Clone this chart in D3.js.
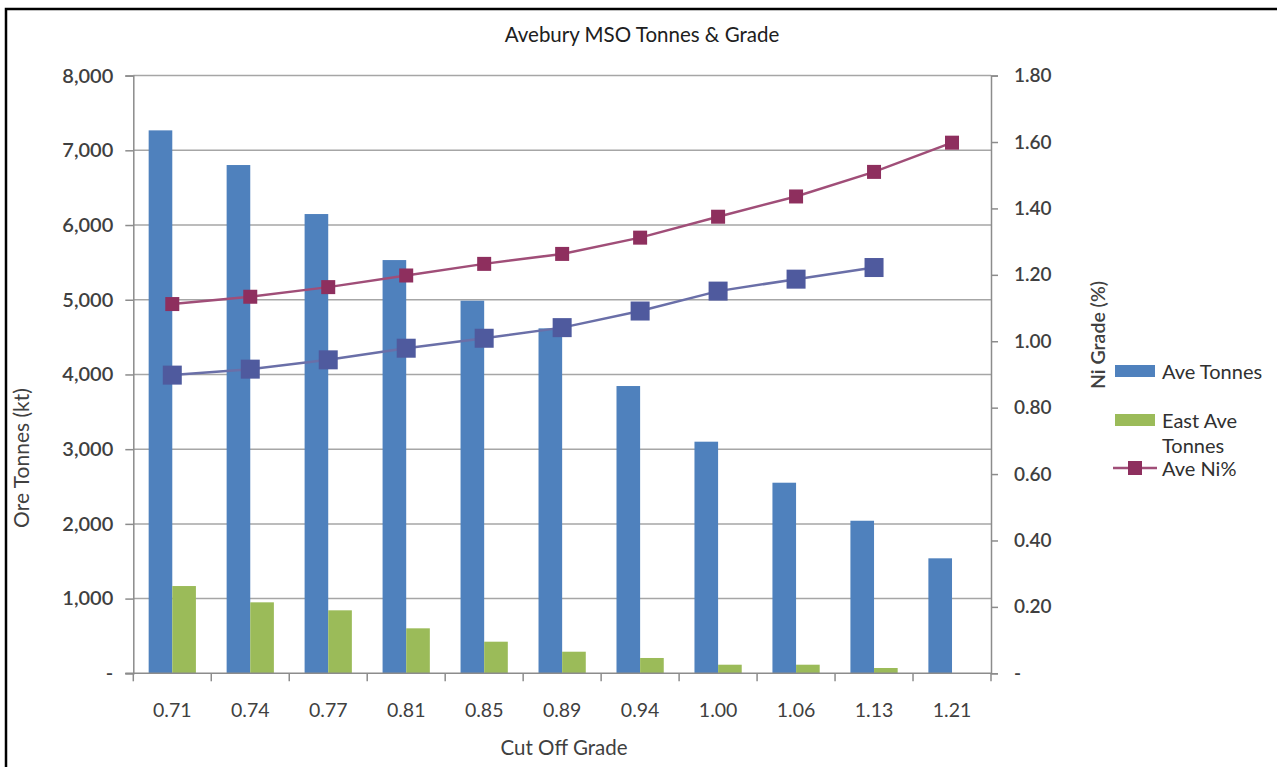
<!DOCTYPE html>
<html>
<head>
<meta charset="utf-8">
<script src="https://cdn.jsdelivr.net/npm/d3@7"></script>
<style>
  html, body { margin: 0; padding: 0; background: #fff; }
  svg { display: block; }
  text { font-family: Lato, "Open Sans", sans-serif; }
</style>
</head>
<body>
<script>
// ---- data ----
const categories = ["0.71", "0.74", "0.77", "0.81", "0.85", "0.89", "0.94", "1.00", "1.06", "1.13", "1.21"];
const aveTonnes = [7267, 6803, 6147, 5531, 4987, 4617, 3845, 3100, 2551, 2042, 1539];
const eastAveTonnes = [1168, 950, 843, 602, 423, 289, 205, 115, 115, 71, null];
const aveNi = [1.112, 1.134, 1.163, 1.198, 1.233, 1.263, 1.312, 1.375, 1.436, 1.510, 1.598];
const eastAveNi = [0.898, 0.916, 0.944, 0.979, 1.009, 1.041, 1.091, 1.151, 1.187, 1.222, null];
const leftTicks = [0, 1000, 2000, 3000, 4000, 5000, 6000, 7000, 8000];
const rightTicks = [0, 0.2, 0.4, 0.6, 0.8, 1.0, 1.2, 1.4, 1.6, 1.8];
const barSeries = ["Ave Tonnes", "East Ave Tonnes"];

const W = 1277, H = 767;
const plot = { left: 133.3, right: 991, top: 75.6, bottom: 673.3 };
const colors = { blue: "#4F81BD", green: "#9BBB59", purple: "#8E2F5E", purpleLine: "#A04E78",
                 indigo: "#4F5A9E", indigoLine: "#6A6FA8", grid: "#A6A6A6", axis: "#8C8C8C", text: "#404040" };

const svg = d3.select("body").append("svg").attr("width", W).attr("height", H);

// frame
svg.append("rect").attr("x", 6).attr("y", 9).attr("width", 1400).attr("height", 900)
  .attr("fill", "none").attr("stroke", "#000").attr("stroke-width", 2.5);

const x = d3.scaleBand().domain(categories).range([plot.left, plot.right]);
const groupW = x.bandwidth() / 1.65;
const x1 = d3.scaleBand().domain(barSeries).range([0, groupW]);
const yL = d3.scaleLinear().domain([0, 8000]).range([plot.bottom, plot.top]);
const yR = d3.scaleLinear().domain([0, 1.8]).range([plot.bottom, plot.top]);

// gridlines
svg.append("g").selectAll("line").data(leftTicks.filter(d => d > 0)).join("line")
  .attr("x1", plot.left).attr("x2", plot.right)
  .attr("y1", d => yL(d)).attr("y2", d => yL(d))
  .attr("stroke", colors.grid).attr("stroke-width", 1.5);

// bars
const bars = svg.append("g");
const barData = [aveTonnes, eastAveTonnes];
const barColors = [colors.blue, colors.green];
barData.forEach((vals, si) => {
  bars.append("g").selectAll("rect")
    .data(categories.map((c, i) => ({ c, v: vals[i] })).filter(d => d.v != null))
    .join("rect")
    .attr("x", d => x(d.c) + (x.bandwidth() - groupW) / 2 + x1(barSeries[si]))
    .attr("width", x1.bandwidth())
    .attr("y", d => yL(d.v))
    .attr("height", d => yL(0) - yL(d.v))
    .attr("fill", barColors[si]);
});

// axes
const leftAxis = d3.axisLeft(yL).tickValues(leftTicks).tickSize(8).tickPadding(12)
  .tickFormat(d => d === 0 ? "-" : d3.format(",")(d));
const gL = svg.append("g").attr("transform", `translate(${plot.left},0)`).call(leftAxis);
const rightAxis = d3.axisRight(yR).tickValues(rightTicks).tickSize(7).tickPadding(16)
  .tickFormat(d => d === 0 ? "-" : d3.format(".2f")(d));
const gR = svg.append("g").attr("transform", `translate(${plot.right},0)`).call(rightAxis);
const bottomAxis = d3.axisBottom(x).tickSize(0).tickPadding(30);
const gB = svg.append("g").attr("transform", `translate(0,${plot.bottom})`).call(bottomAxis);
// category boundary ticks
gB.append("g").selectAll("line").data(categories.concat(["__end"])).join("line")
  .attr("x1", (d, i) => i < categories.length ? x(d) : plot.right)
  .attr("x2", (d, i) => i < categories.length ? x(d) : plot.right)
  .attr("y1", 0).attr("y2", 8).attr("stroke", colors.axis).attr("stroke-width", 1.5);

[gL, gR, gB].forEach(g => {
  g.select(".domain").attr("stroke", colors.axis).attr("stroke-width", 1.5);
  g.selectAll(".tick line").attr("stroke", colors.axis).attr("stroke-width", 1.5);
  g.selectAll(".tick text").attr("fill", colors.text).attr("font-size", 19)
    .attr("font-family", "Lato, sans-serif");
});
gL.selectAll(".tick text").attr("font-size", 20).attr("font-weight", 600);
gR.selectAll(".tick text").attr("font-size", 19).attr("font-weight", 600);
gB.selectAll(".tick text").attr("font-size", 19.5);
// extend baseline to left tick
gB.select(".domain").attr("d", `M${plot.left - 8},0H${plot.right}`);

// lines
const lineGen = (ys) => d3.line().defined(d => d.v != null)
  .x(d => x(d.c) + x.bandwidth() / 2).y(d => ys(d.v));
function drawSeries(vals, lineColor, markColor, size, lw) {
  const data = categories.map((c, i) => ({ c, v: vals[i] }));
  svg.append("path").datum(data).attr("d", lineGen(yR))
    .attr("fill", "none").attr("stroke", lineColor).attr("stroke-width", lw);
  svg.append("g").selectAll("rect").data(data.filter(d => d.v != null)).join("rect")
    .attr("x", d => x(d.c) + x.bandwidth() / 2 - size / 2)
    .attr("y", d => yR(d.v) - size / 2)
    .attr("width", size).attr("height", size)
    .attr("fill", markColor);
}
drawSeries(eastAveNi, colors.indigoLine, colors.indigo, 19, 2.5);
drawSeries(aveNi, colors.purpleLine, colors.purple, 14, 2.5);

// titles
svg.append("text").attr("x", 642).attr("y", 42).attr("text-anchor", "middle")
  .attr("font-size", 20.5).attr("fill", "#202020").text("Avebury MSO Tonnes & Grade");
svg.append("text").attr("transform", "translate(29,458) rotate(-90)").attr("text-anchor", "middle")
  .attr("font-size", 21).attr("fill", colors.text).text("Ore Tonnes (kt)");
svg.append("text").attr("transform", "translate(1105,335) rotate(-90)").attr("text-anchor", "middle")
  .attr("font-size", 19.5).attr("font-weight", 600).attr("fill", colors.text).text("Ni Grade (%)");
svg.append("text").attr("x", 564).attr("y", 755).attr("text-anchor", "middle")
  .attr("font-size", 20.5).attr("fill", colors.text).text("Cut Off Grade");

// legend
const lg = svg.append("g");
lg.append("rect").attr("x", 1115).attr("y", 365).attr("width", 40).attr("height", 12).attr("fill", colors.blue);
lg.append("text").attr("x", 1162).attr("y", 379).attr("font-size", 20).attr("fill", "#303030").text("Ave Tonnes");
lg.append("rect").attr("x", 1115).attr("y", 414).attr("width", 40).attr("height", 12).attr("fill", colors.green);
lg.append("text").attr("x", 1162).attr("y", 428).attr("font-size", 20).attr("fill", "#303030").text("East Ave");
lg.append("text").attr("x", 1162).attr("y", 453).attr("font-size", 20).attr("fill", "#303030").text("Tonnes");
lg.append("line").attr("x1", 1113).attr("x2", 1157).attr("y1", 468).attr("y2", 468)
  .attr("stroke", colors.purpleLine).attr("stroke-width", 2.5);
lg.append("rect").attr("x", 1128).attr("y", 461).attr("width", 14).attr("height", 14).attr("fill", colors.purple);
lg.append("text").attr("x", 1162).attr("y", 476).attr("font-size", 20).attr("fill", "#303030").text("Ave Ni%");
</script>
</body>
</html>
